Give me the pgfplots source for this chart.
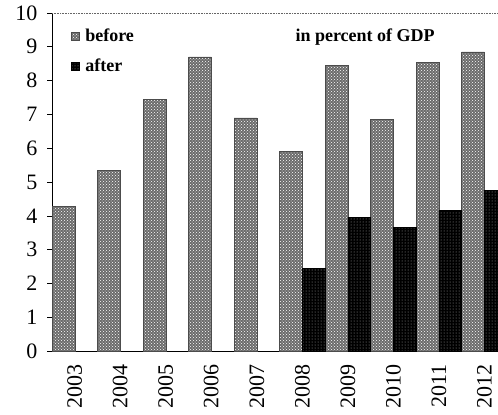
\documentclass[border=0pt]{standalone}
\usepackage{pgfplots}
\pgfplotsset{compat=1.18}
\usetikzlibrary{patterns}
\usepackage{fontspec}
\setmainfont{Liberation Serif}

\begin{document}
\begin{tikzpicture}
\begin{axis}[
	scale only axis,
	width=446pt, height=338pt,
	xmin=-0.5, xmax=9.3,
	ymin=0, ymax=10,
	axis x line*=bottom,
	axis y line*=left,
	axis line style={line width=0.8pt},
	ytick={0,1,...,10},
	xtick={0,...,9},
	xticklabels={2003,2004,2005,2006,2007,2008,2009,2010,2011,2012},
	major x tick style={draw=none},
	extra x ticks={-0.5,0.5,...,9.5},
	extra x tick labels={},
	extra x tick style={tick align=outside, major tick length=6pt, tick style={draw=black, line width=0.6pt}},
	tick align=outside,
	major tick length=5pt,
	tick style={line width=0.6pt, black},
	/pgf/number format/assume math mode=true,
	tick label style={font=\fontsize{22}{24}\selectfont},
	yticklabel style={xshift=-6pt},
	xticklabel style={rotate=90, anchor=east, xshift=-5pt},
	ybar,
	bar width=0.5,
	legend cell align=left,
	legend style={
		at={(0.035,0.965)}, anchor=north west,
		draw=none, fill=none,
		font=\fontsize{18}{20}\bfseries\selectfont,
		row sep=12pt,
		/tikz/every even column/.append style={column sep=0pt},
	},
	legend image code/.code={
		\draw[#1] (0pt,-4pt) rectangle (8pt,4pt);
		\path (12pt,0pt);
	},
]

\addplot[
	bar shift=-0.25,
	draw=black!70, line width=0.5pt,
	fill=black!58,
	postaction={pattern=crosshatch dots, pattern color=white},
] coordinates {
	(0,4.28) (1,5.35) (2,7.45) (3,8.7) (4,6.9)
	(5,5.9) (6,8.45) (7,6.85) (8,8.55) (9,8.85)
};
\addlegendentry{before}

\addplot[
	bar shift=0.25,
	draw=black, line width=0.5pt,
	fill=black,
	postaction={pattern=dots, pattern color=gray!70},
] coordinates {
	(5,2.45) (6,3.95) (7,3.65) (8,4.15) (9,4.75)
};
\addlegendentry{after}

\draw[densely dotted, gray!80!black, line width=0.6pt]
	(rel axis cs:0,1) -- (rel axis cs:1,1);

\node[font=\fontsize{18}{20}\bfseries\selectfont, anchor=center]
	at (rel axis cs:0.702,0.928) {in percent of GDP};
\end{axis}
\pgfresetboundingbox
\path ([xshift=-52pt,yshift=-63pt]current axis.south west)
	rectangle ([yshift=13pt]current axis.north east);
\end{tikzpicture}
\end{document}
